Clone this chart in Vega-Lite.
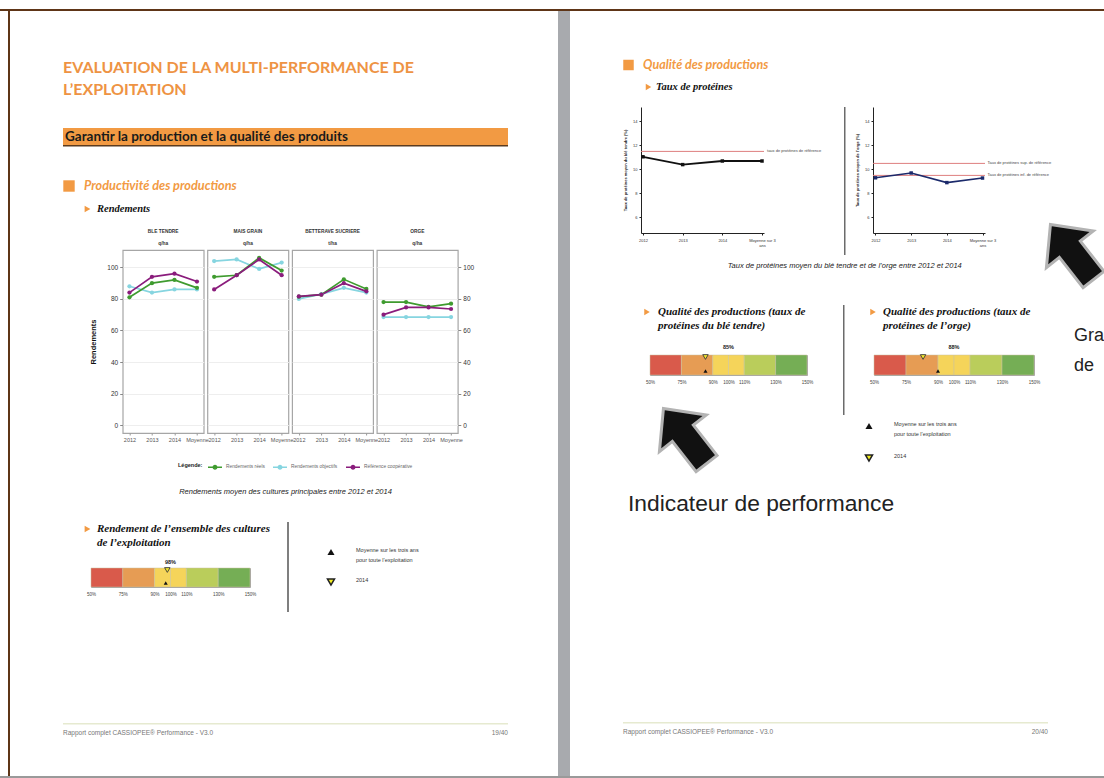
{
"$schema": "https://vega.github.io/schema/vega-lite/v6.json",
"padding": 0,
"background": "#ffffff",
"autosize": {"type": "pad"},
"config": {"view": {"stroke": null}, "font": "Liberation Sans", "concat": {"spacing": 0},
  "axis": {"labelFont": "Liberation Sans", "titleFont": "Liberation Sans"},
  "legend": {"labelFont": "Liberation Sans", "titleFont": "Liberation Sans"},
  "title": {"font": "Liberation Sans"}},
"datasets": {
 "rendements": [
  {"culture": "BLE TENDRE", "annee": "2012", "serie": "Rendements objectifs", "valeur": 88},
  {"culture": "BLE TENDRE", "annee": "2013", "serie": "Rendements objectifs", "valeur": 84},
  {"culture": "BLE TENDRE", "annee": "2014", "serie": "Rendements objectifs", "valeur": 86},
  {"culture": "BLE TENDRE", "annee": "Moyenne", "serie": "Rendements objectifs", "valeur": 86},
  {"culture": "MAIS GRAIN", "annee": "2012", "serie": "Rendements objectifs", "valeur": 104},
  {"culture": "MAIS GRAIN", "annee": "2013", "serie": "Rendements objectifs", "valeur": 105},
  {"culture": "MAIS GRAIN", "annee": "2014", "serie": "Rendements objectifs", "valeur": 99},
  {"culture": "MAIS GRAIN", "annee": "Moyenne", "serie": "Rendements objectifs", "valeur": 103},
  {"culture": "BETTERAVE SUCRIERE", "annee": "2012", "serie": "Rendements objectifs", "valeur": 80},
  {"culture": "BETTERAVE SUCRIERE", "annee": "2013", "serie": "Rendements objectifs", "valeur": 83},
  {"culture": "BETTERAVE SUCRIERE", "annee": "2014", "serie": "Rendements objectifs", "valeur": 87},
  {"culture": "BETTERAVE SUCRIERE", "annee": "Moyenne", "serie": "Rendements objectifs", "valeur": 84},
  {"culture": "ORGE", "annee": "2012", "serie": "Rendements objectifs", "valeur": 68.5},
  {"culture": "ORGE", "annee": "2013", "serie": "Rendements objectifs", "valeur": 68.5},
  {"culture": "ORGE", "annee": "2014", "serie": "Rendements objectifs", "valeur": 68.5},
  {"culture": "ORGE", "annee": "Moyenne", "serie": "Rendements objectifs", "valeur": 68.5},
  {"culture": "BLE TENDRE", "annee": "2012", "serie": "Rendements réels", "valeur": 81},
  {"culture": "BLE TENDRE", "annee": "2013", "serie": "Rendements réels", "valeur": 90},
  {"culture": "BLE TENDRE", "annee": "2014", "serie": "Rendements réels", "valeur": 92},
  {"culture": "BLE TENDRE", "annee": "Moyenne", "serie": "Rendements réels", "valeur": 87},
  {"culture": "MAIS GRAIN", "annee": "2012", "serie": "Rendements réels", "valeur": 94},
  {"culture": "MAIS GRAIN", "annee": "2013", "serie": "Rendements réels", "valeur": 95},
  {"culture": "MAIS GRAIN", "annee": "2014", "serie": "Rendements réels", "valeur": 106},
  {"culture": "MAIS GRAIN", "annee": "Moyenne", "serie": "Rendements réels", "valeur": 98},
  {"culture": "BETTERAVE SUCRIERE", "annee": "2012", "serie": "Rendements réels", "valeur": 81.4},
  {"culture": "BETTERAVE SUCRIERE", "annee": "2013", "serie": "Rendements réels", "valeur": 82.7},
  {"culture": "BETTERAVE SUCRIERE", "annee": "2014", "serie": "Rendements réels", "valeur": 92.4},
  {"culture": "BETTERAVE SUCRIERE", "annee": "Moyenne", "serie": "Rendements réels", "valeur": 86.3},
  {"culture": "ORGE", "annee": "2012", "serie": "Rendements réels", "valeur": 78},
  {"culture": "ORGE", "annee": "2013", "serie": "Rendements réels", "valeur": 78},
  {"culture": "ORGE", "annee": "2014", "serie": "Rendements réels", "valeur": 75},
  {"culture": "ORGE", "annee": "Moyenne", "serie": "Rendements réels", "valeur": 77},
  {"culture": "BLE TENDRE", "annee": "2012", "serie": "Référence coopérative", "valeur": 84},
  {"culture": "BLE TENDRE", "annee": "2013", "serie": "Référence coopérative", "valeur": 94},
  {"culture": "BLE TENDRE", "annee": "2014", "serie": "Référence coopérative", "valeur": 96},
  {"culture": "BLE TENDRE", "annee": "Moyenne", "serie": "Référence coopérative", "valeur": 91},
  {"culture": "MAIS GRAIN", "annee": "2012", "serie": "Référence coopérative", "valeur": 86},
  {"culture": "MAIS GRAIN", "annee": "2013", "serie": "Référence coopérative", "valeur": 95},
  {"culture": "MAIS GRAIN", "annee": "2014", "serie": "Référence coopérative", "valeur": 105},
  {"culture": "MAIS GRAIN", "annee": "Moyenne", "serie": "Référence coopérative", "valeur": 95},
  {"culture": "BETTERAVE SUCRIERE", "annee": "2012", "serie": "Référence coopérative", "valeur": 81.6},
  {"culture": "BETTERAVE SUCRIERE", "annee": "2013", "serie": "Référence coopérative", "valeur": 82.7},
  {"culture": "BETTERAVE SUCRIERE", "annee": "2014", "serie": "Référence coopérative", "valeur": 90},
  {"culture": "BETTERAVE SUCRIERE", "annee": "Moyenne", "serie": "Référence coopérative", "valeur": 84.8},
  {"culture": "ORGE", "annee": "2012", "serie": "Référence coopérative", "valeur": 70},
  {"culture": "ORGE", "annee": "2013", "serie": "Référence coopérative", "valeur": 74.6},
  {"culture": "ORGE", "annee": "2014", "serie": "Référence coopérative", "valeur": 74.6},
  {"culture": "ORGE", "annee": "Moyenne", "serie": "Référence coopérative", "valeur": 73.6}
 ],
 "proteines": [
  {"culture": "Blé tendre", "annee": "2012", "taux": 11.05},
  {"culture": "Blé tendre", "annee": "2013", "taux": 10.4},
  {"culture": "Blé tendre", "annee": "2014", "taux": 10.7},
  {"culture": "Blé tendre", "annee": "Moyenne sur 3 ans", "taux": 10.7},
  {"culture": "Orge", "annee": "2012", "taux": 9.3},
  {"culture": "Orge", "annee": "2013", "taux": 9.7},
  {"culture": "Orge", "annee": "2014", "taux": 8.9},
  {"culture": "Orge", "annee": "Moyenne sur 3 ans", "taux": 9.28}
 ],
 "references": [
  {"culture": "Blé tendre", "libelle": "taux de protéines de référence", "taux": 11.5},
  {"culture": "Orge", "libelle": "Taux de protéines sup. de référence", "taux": 10.5},
  {"culture": "Orge", "libelle": "Taux de protéines inf. de référence", "taux": 9.5}
 ],
 "zones": [
  {"zone": "z1", "debut": 50, "fin": 75},
  {"zone": "z2", "debut": 75, "fin": 90},
  {"zone": "z3", "debut": 90, "fin": 100},
  {"zone": "z4", "debut": 100, "fin": 110},
  {"zone": "z5", "debut": 110, "fin": 130},
  {"zone": "z6", "debut": 130, "fin": 150}
 ],
 "marqueurs": [
  {"jauge": "rendement", "type": "Moyenne", "valeur": 97},
  {"jauge": "rendement", "type": "2014", "valeur": 98},
  {"jauge": "ble", "type": "Moyenne", "valeur": 86.5},
  {"jauge": "ble", "type": "2014", "valeur": 86.5},
  {"jauge": "orge", "type": "Moyenne", "valeur": 90},
  {"jauge": "orge", "type": "2014", "valeur": 83}
 ],
 "etiquettes": [
  {"jauge": "rendement", "texte": "98%"},
  {"jauge": "ble", "texte": "85%"},
  {"jauge": "orge", "texte": "88%"}
 ],
 "legende_jauge": [
  {"type": "Moyenne", "libelle": "Moyenne sur les trois ans\npour toute l’exploitation"},
  {"type": "2014", "libelle": "2014"}
 ]
},
"spacing": 0,
"vconcat": [
 {"width": 1104, "height": 9, "data": {"values": []}, "mark": "rect", "encoding": {}},
 {"width": 1104, "height": 2, "view": {"fill": "#5e3517", "stroke": null}, "data": {"values": []}, "mark": "rect", "encoding": {}},
 {"spacing": 0, "hconcat": [
  {"width": 8, "height": 765, "data": {"values": []}, "mark": "rect", "encoding": {}},
  {"width": 2, "height": 765, "view": {"fill": "#5e3517", "stroke": null}, "data": {"values": []}, "mark": "rect", "encoding": {}},
  {"spacing": 0, "vconcat": [
   {"width": 548, "height": 45, "data": {"values": []}, "mark": "rect", "encoding": {}},
   {"spacing": 0, "hconcat": [
    {"width": 53, "height": 46, "data": {"values": []}, "mark": "rect", "encoding": {}},
    {"width": 445, "height": 46, "data": {"values": [{"t": "EVALUATION DE LA MULTI-PERFORMANCE DE\nL’EXPLOITATION"}]},
     "mark": {"type": "text", "align": "left", "baseline": "middle", "font": "Lato", "fontSize": 16, "fontWeight": "bold", "color": "#EE9343", "lineBreak": "\n", "lineHeight": 22, "dy": -11},
     "encoding": {"text": {"field": "t"}, "x": {"datum": 0, "type": "quantitative", "scale": {"domain": [0, 1], "nice": false, "zero": false}, "axis": null}}}
   ]},
   {"width": 548, "height": 26, "data": {"values": []}, "mark": "rect", "encoding": {}},
   {"spacing": 0, "hconcat": [
    {"width": 53, "height": 17, "data": {"values": []}, "mark": "rect", "encoding": {}},
    {"width": 445, "height": 17, "view": {"fill": "#F29A43", "stroke": null}, "data": {"values": [{"t": "Garantir la production et la qualité des produits"}]},
     "mark": {"type": "text", "align": "left", "baseline": "middle", "font": "Lato", "fontSize": 13.5, "fontWeight": "bold", "color": "#1a1a1a", "dx": 2},
     "encoding": {"text": {"field": "t"}, "x": {"datum": 0, "type": "quantitative", "scale": {"domain": [0, 1], "nice": false, "zero": false}, "axis": null}}}
   ]},
   {"spacing": 0, "hconcat": [
    {"width": 53, "height": 1.5, "data": {"values": []}, "mark": "rect", "encoding": {}},
    {"width": 445, "height": 1.5, "view": {"fill": "#5b3b1f", "stroke": null}, "data": {"values": []}, "mark": "rect", "encoding": {}}
   ]},
   {"width": 548, "height": 29.5, "data": {"values": []}, "mark": "rect", "encoding": {}},
   {"spacing": 0, "hconcat": [
    {"width": 53, "height": 18, "data": {"values": []}, "mark": "rect", "encoding": {}},
    {"width": 445, "height": 18, "data": {"values": [{"t": "Productivité des productions"}]},
     "layer": [
      {"mark": {"type": "point", "shape": "square", "filled": true, "color": "#F29A43", "size": 130, "opacity": 1, "xOffset": 6},
       "encoding": {"x": {"datum": 0, "type": "quantitative", "scale": {"domain": [0, 1], "nice": false, "zero": false}, "axis": null}}},
      {"mark": {"type": "text", "align": "left", "baseline": "middle", "font": "Lato", "fontSize": 12.7, "fontStyle": "italic", "fontWeight": "bold", "color": "#F29A43", "dx": 21},
       "encoding": {"text": {"field": "t"}, "x": {"datum": 0, "type": "quantitative"}}}
     ]}
   ]},
   {"width": 548, "height": 7, "data": {"values": []}, "mark": "rect", "encoding": {}},
   {"spacing": 0, "hconcat": [
    {"width": 74, "height": 14, "data": {"values": []}, "mark": "rect", "encoding": {}},
    {"width": 300, "height": 14, "data": {"values": [{"t": "Rendements"}]},
     "layer": [
      {"mark": {"type": "point", "shape": "triangle-right", "filled": true, "color": "#F29A43", "size": 45, "opacity": 1, "xOffset": 3.5},
       "encoding": {"x": {"datum": 0, "type": "quantitative", "scale": {"domain": [0, 1], "nice": false, "zero": false}, "axis": null}}},
      {"mark": {"type": "text", "align": "left", "baseline": "middle", "font": "Liberation Serif", "fontSize": 10.5, "fontStyle": "italic", "fontWeight": "bold", "color": "#111111", "dx": 13},
       "encoding": {"text": {"field": "t"}, "x": {"datum": 0, "type": "quantitative"}}}
     ]}
   ]},
   {"width": 548, "height": 11.5, "data": {"values": []}, "mark": "rect", "encoding": {}},
   {"spacing": 3.7, "bounds": "flush", "hconcat": [
    {"width": 109, "height": 183, "data": {"values": []}, "mark": "rect", "encoding": {}},
    {"width": 81, "height": 183, "view": {"stroke": "#a6a6a6", "strokeWidth": 1.2},
     "title": {"text": ["BLE TENDRE", "q/ha"], "fontSize": 4.8, "fontWeight": "bold", "color": "#333333", "lineHeight": 12, "offset": 4},
     "data": {"name": "rendements"}, "transform": [{"filter": "datum.culture === 'BLE TENDRE'"}],
     "mark": {"type": "line", "strokeWidth": 1.7, "point": {"filled": true, "size": 18, "opacity": 1}},
     "encoding": {
      "x": {"field": "annee", "type": "nominal", "sort": null, "scale": {"type": "point", "padding": 0.3}, "axis": {"labelFontSize": 5.5, "labelColor": "#555555", "labelAngle": 0, "tickSize": 2, "tickColor": "#999999", "domain": false, "title": null, "labelOverlap": false, "labelPadding": 2, "labelFlush": false}},
      "y": {"field": "valeur", "type": "quantitative", "scale": {"domain": [-5, 111], "nice": false, "zero": false}, "axis": {"values": [0, 20, 40, 60, 80, 100], "labelFontSize": 6.5, "labelColor": "#333333", "tickSize": 3, "tickColor": "#888888", "domain": false, "grid": true, "gridColor": "#eeeeee", "title": "Rendements", "titleFontSize": 7.5, "titleFontWeight": "bold", "titleColor": "#111111", "titlePadding": 9, "labelPadding": 2}},
      "color": {"field": "serie", "type": "nominal", "scale": {"domain": ["Rendements réels", "Rendements objectifs", "Référence coopérative"], "range": ["#3f9b2f", "#86d5e0", "#8a1c7c"]},
       "legend": {"orient": "none", "legendX": 178, "legendY": 459, "direction": "horizontal", "columns": 3, "title": "Légende:", "titleOrient": "left", "titleFontSize": 5.5, "titleFontWeight": "bold", "titleColor": "#222222", "titlePadding": 4, "labelFontSize": 4.8, "labelColor": "#666666", "symbolType": "M-1,0H1M-0.25,0A0.25,0.25,0,1,1,0.25,0A0.25,0.25,0,1,1,-0.25,0", "symbolSize": 196, "symbolStrokeWidth": 1.4, "columnPadding": 5, "labelOffset": 3}}
     }},
    {"width": 81, "height": 183, "view": {"stroke": "#a6a6a6", "strokeWidth": 1.2},
     "title": {"text": ["MAIS GRAIN", "q/ha"], "fontSize": 4.8, "fontWeight": "bold", "color": "#333333", "lineHeight": 12, "offset": 4},
     "data": {"name": "rendements"}, "transform": [{"filter": "datum.culture === 'MAIS GRAIN'"}],
     "mark": {"type": "line", "strokeWidth": 1.7, "point": {"filled": true, "size": 18, "opacity": 1}},
     "encoding": {
      "x": {"field": "annee", "type": "nominal", "sort": null, "scale": {"type": "point", "padding": 0.3}, "axis": {"labelFontSize": 5.5, "labelColor": "#555555", "labelAngle": 0, "tickSize": 2, "tickColor": "#999999", "domain": false, "title": null, "labelOverlap": false, "labelPadding": 2, "labelFlush": false}},
      "y": {"field": "valeur", "type": "quantitative", "scale": {"domain": [-5, 111], "nice": false, "zero": false}, "axis": {"values": [0, 20, 40, 60, 80, 100], "labels": false, "ticks": false, "domain": false, "grid": true, "gridColor": "#eeeeee", "title": null}},
      "color": {"field": "serie", "type": "nominal", "scale": {"domain": ["Rendements réels", "Rendements objectifs", "Référence coopérative"], "range": ["#3f9b2f", "#86d5e0", "#8a1c7c"]}}
     }},
    {"width": 81, "height": 183, "view": {"stroke": "#a6a6a6", "strokeWidth": 1.2},
     "title": {"text": ["BETTERAVE SUCRIERE", "t/ha"], "fontSize": 4.8, "fontWeight": "bold", "color": "#333333", "lineHeight": 12, "offset": 4},
     "data": {"name": "rendements"}, "transform": [{"filter": "datum.culture === 'BETTERAVE SUCRIERE'"}],
     "mark": {"type": "line", "strokeWidth": 1.7, "point": {"filled": true, "size": 18, "opacity": 1}},
     "encoding": {
      "x": {"field": "annee", "type": "nominal", "sort": null, "scale": {"type": "point", "padding": 0.3}, "axis": {"labelFontSize": 5.5, "labelColor": "#555555", "labelAngle": 0, "tickSize": 2, "tickColor": "#999999", "domain": false, "title": null, "labelOverlap": false, "labelPadding": 2, "labelFlush": false}},
      "y": {"field": "valeur", "type": "quantitative", "scale": {"domain": [-5, 111], "nice": false, "zero": false}, "axis": {"values": [0, 20, 40, 60, 80, 100], "labels": false, "ticks": false, "domain": false, "grid": true, "gridColor": "#eeeeee", "title": null}},
      "color": {"field": "serie", "type": "nominal", "scale": {"domain": ["Rendements réels", "Rendements objectifs", "Référence coopérative"], "range": ["#3f9b2f", "#86d5e0", "#8a1c7c"]}}
     }},
    {"width": 81, "height": 183, "view": {"stroke": "#a6a6a6", "strokeWidth": 1.2},
     "title": {"text": ["ORGE", "q/ha"], "fontSize": 4.8, "fontWeight": "bold", "color": "#333333", "lineHeight": 12, "offset": 4},
     "data": {"name": "rendements"}, "transform": [{"filter": "datum.culture === 'ORGE'"}],
     "mark": {"type": "line", "strokeWidth": 1.7, "point": {"filled": true, "size": 18, "opacity": 1}},
     "encoding": {
      "x": {"field": "annee", "type": "nominal", "sort": null, "scale": {"type": "point", "padding": 0.3}, "axis": {"labelFontSize": 5.5, "labelColor": "#555555", "labelAngle": 0, "tickSize": 2, "tickColor": "#999999", "domain": false, "title": null, "labelOverlap": false, "labelPadding": 2, "labelFlush": false}},
      "y": {"field": "valeur", "type": "quantitative", "scale": {"domain": [-5, 111], "nice": false, "zero": false}, "axis": {"orient": "right", "values": [0, 20, 40, 60, 80, 100], "labelFontSize": 6.5, "labelColor": "#333333", "tickSize": 3, "tickColor": "#888888", "domain": false, "grid": true, "gridColor": "#eeeeee", "title": null, "labelPadding": 2}},
      "color": {"field": "serie", "type": "nominal", "scale": {"domain": ["Rendements réels", "Rendements objectifs", "Référence coopérative"], "range": ["#3f9b2f", "#86d5e0", "#8a1c7c"]}}
     }}
   ]},
   {"width": 548, "height": 42, "data": {"values": []}, "mark": "rect", "encoding": {}},
   {"spacing": 0, "hconcat": [
    {"width": 53, "height": 12, "data": {"values": []}, "mark": "rect", "encoding": {}},
    {"width": 445, "height": 12, "data": {"values": [{"t": "Rendements moyen des cultures principales entre 2012 et 2014"}]},
     "mark": {"type": "text", "baseline": "middle", "fontSize": 7.5, "fontStyle": "italic", "color": "#222222"},
     "encoding": {"text": {"field": "t"}}}
   ]},
   {"width": 548, "height": 22.5, "data": {"values": []}, "mark": "rect", "encoding": {}},
   {"spacing": 0, "hconcat": [
    {"width": 74, "height": 90, "data": {"values": []}, "mark": "rect", "encoding": {}},
    {"spacing": 0, "vconcat": [
     {"width": 203, "height": 28, "data": {"values": [{"t": "Rendement de l’ensemble des cultures\nde l’exploitation"}]},
      "layer": [
       {"mark": {"type": "point", "shape": "triangle-right", "filled": true, "color": "#F29A43", "size": 45, "opacity": 1, "xOffset": 3.5, "yOffset": -7},
        "encoding": {"x": {"datum": 0, "type": "quantitative", "scale": {"domain": [0, 1], "nice": false, "zero": false}, "axis": null}}},
       {"mark": {"type": "text", "align": "left", "baseline": "middle", "font": "Liberation Serif", "fontSize": 11, "fontStyle": "italic", "fontWeight": "bold", "color": "#111111", "dx": 13, "dy": -7, "lineBreak": "\n", "lineHeight": 14},
        "encoding": {"text": {"field": "t"}, "x": {"datum": 0, "type": "quantitative"}}}
      ]},
     {"width": 203, "height": 8.5, "data": {"values": []}, "mark": "rect", "encoding": {}},
     {"spacing": 0, "bounds": "flush", "hconcat": [
      {"width": 7, "height": 19, "data": {"values": []}, "mark": "rect", "encoding": {}},
      {"width": 159, "height": 19, "view": {"stroke": "#a3a3a3", "strokeWidth": 1},
       "layer": [
        {"data": {"name": "zones"}, "mark": {"type": "rect", "stroke": "#c9c3a0", "strokeWidth": 0.5},
         "encoding": {
          "x": {"field": "debut", "type": "quantitative", "scale": {"domain": [50, 75, 90, 100, 110, 130, 150], "range": [0, 31.8, 63.6, 79.5, 95.4, 127.2, 159], "nice": false, "zero": false}, "axis": {"values": [50, 75, 90, 100, 110, 130, 150], "labelExpr": "datum.value + '%'", "labelFontSize": 4.5, "labelColor": "#444444", "ticks": false, "domain": false, "grid": false, "labelPadding": 4, "labelFlush": false, "labelOverlap": false, "title": null}},
          "x2": {"field": "fin"},
          "fill": {"field": "zone", "type": "nominal", "scale": {"domain": ["z1", "z2", "z3", "z4", "z5", "z6"], "range": ["#d95a4b", "#e69c54", "#f5d45a", "#f5d45a", "#bacd5b", "#75ae55"]}, "legend": null}}},
        {"data": {"name": "marqueurs"}, "transform": [{"filter": "datum.jauge === 'rendement' && datum.type === 'Moyenne'"}],
         "mark": {"type": "point", "shape": "triangle-up", "filled": true, "color": "#111111", "opacity": 1, "size": 16, "yOffset": 5.5},
         "encoding": {"x": {"field": "valeur", "type": "quantitative", "axis": {"values": [50, 75, 90, 100, 110, 130, 150], "labelExpr": "datum.value + '%'", "labelFontSize": 4.5, "labelColor": "#444444", "ticks": false, "domain": false, "grid": false, "labelPadding": 4, "labelFlush": false, "labelOverlap": false, "title": null}}}},
        {"data": {"name": "marqueurs"}, "transform": [{"filter": "datum.jauge === 'rendement' && datum.type === '2014'"}],
         "mark": {"type": "point", "shape": "triangle-down", "filled": true, "fill": "#f1e62b", "stroke": "#3b3b3b", "strokeWidth": 0.9, "opacity": 1, "size": 30, "yOffset": -7.5},
         "encoding": {"x": {"field": "valeur", "type": "quantitative", "axis": {"values": [50, 75, 90, 100, 110, 130, 150], "labelExpr": "datum.value + '%'", "labelFontSize": 4.5, "labelColor": "#444444", "ticks": false, "domain": false, "grid": false, "labelPadding": 4, "labelFlush": false, "labelOverlap": false, "title": null}}}},
        {"data": {"name": "etiquettes"}, "transform": [{"filter": "datum.jauge === 'rendement'"}],
         "mark": {"type": "text", "fontSize": 5.5, "fontWeight": "bold", "color": "#222222", "baseline": "middle", "dy": -15.5},
         "encoding": {"x": {"datum": 100, "type": "quantitative", "axis": {"values": [50, 75, 90, 100, 110, 130, 150], "labelExpr": "datum.value + '%'", "labelFontSize": 4.5, "labelColor": "#444444", "ticks": false, "domain": false, "grid": false, "labelPadding": 4, "labelFlush": false, "labelOverlap": false, "title": null}}, "text": {"field": "texte"}}}
       ]}
     ]}
    ]},
    {"width": 173, "height": 90,
     "layer": [
      {"data": {"values": [{}]}, "mark": {"type": "rule", "color": "#555555", "strokeWidth": 1.5},
       "encoding": {"x": {"datum": 0, "type": "quantitative", "scale": {"domain": [0, 1], "nice": false, "zero": false}, "axis": null}}},
      {"data": {"name": "legende_jauge"}, "transform": [{"filter": "datum.type === 'Moyenne'"}],
       "mark": {"type": "point", "shape": "triangle-up", "filled": true, "color": "#111111", "size": 50, "opacity": 1, "xOffset": 43},
       "encoding": {"x": {"datum": 0, "type": "quantitative", "axis": null}, "y": {"field": "type", "type": "nominal", "scale": {"type": "point", "domain": ["Moyenne", "2014"], "padding": 1}, "axis": null}}},
      {"data": {"name": "legende_jauge"}, "transform": [{"filter": "datum.type === '2014'"}],
       "mark": {"type": "point", "shape": "triangle-down", "filled": true, "fill": "#f2ee22", "stroke": "#222222", "strokeWidth": 1.5, "size": 50, "opacity": 1, "xOffset": 43},
       "encoding": {"x": {"datum": 0, "type": "quantitative", "axis": null}, "y": {"field": "type", "type": "nominal", "axis": null}}},
      {"data": {"name": "legende_jauge"},
       "mark": {"type": "text", "align": "left", "baseline": "middle", "fontSize": 5.5, "color": "#333333", "lineBreak": "\n", "lineHeight": 10, "dx": 68, "dy": -2.5},
       "encoding": {"x": {"datum": 0, "type": "quantitative", "axis": null}, "y": {"field": "type", "type": "nominal", "axis": null}, "text": {"field": "libelle"}}}
     ]}
   ]},
   {"width": 548, "height": 110, "data": {"values": []}, "mark": "rect", "encoding": {}},
   {"spacing": 0, "hconcat": [
    {"width": 53, "height": 1.5, "data": {"values": []}, "mark": "rect", "encoding": {}},
    {"width": 445, "height": 1.5, "view": {"fill": "#e6ead0", "stroke": null}, "data": {"values": []}, "mark": "rect", "encoding": {}}
   ]},
   {"width": 548, "height": 3, "data": {"values": []}, "mark": "rect", "encoding": {}},
   {"spacing": 0, "hconcat": [
    {"width": 53, "height": 10, "data": {"values": []}, "mark": "rect", "encoding": {}},
    {"width": 445, "height": 10, "data": {"values": [{"gauche": "Rapport complet CASSIOPEE® Performance - V3.0", "droite": "19/40"}]},
     "layer": [
      {"mark": {"type": "text", "align": "left", "baseline": "middle", "fontSize": 6.5, "color": "#777777"},
       "encoding": {"text": {"field": "gauche"}, "x": {"datum": 0, "type": "quantitative", "scale": {"domain": [0, 1], "nice": false, "zero": false}, "axis": null}}},
      {"mark": {"type": "text", "align": "right", "baseline": "middle", "fontSize": 6.5, "color": "#777777"},
       "encoding": {"text": {"field": "droite"}, "x": {"datum": 1, "type": "quantitative", "axis": null}}}
     ]}
   ]}
  ]},
  {"width": 12, "height": 765, "view": {"fill": "#a8aaae", "stroke": null}, "data": {"values": []}, "mark": "rect", "encoding": {}},
  {"spacing": 0, "vconcat": [
   {"width": 534, "height": 47, "data": {"values": []}, "mark": "rect", "encoding": {}},
   {"spacing": 0, "hconcat": [
    {"width": 53, "height": 14, "data": {"values": []}, "mark": "rect", "encoding": {}},
    {"width": 300, "height": 14, "data": {"values": [{"t": "Qualité des productions"}]},
     "layer": [
      {"mark": {"type": "point", "shape": "square", "filled": true, "color": "#F29A43", "size": 110, "opacity": 1, "xOffset": 5.5},
       "encoding": {"x": {"datum": 0, "type": "quantitative", "scale": {"domain": [0, 1], "nice": false, "zero": false}, "axis": null}}},
      {"mark": {"type": "text", "align": "left", "baseline": "middle", "font": "Lato", "fontSize": 12.5, "fontStyle": "italic", "fontWeight": "bold", "color": "#F29A43", "dx": 20},
       "encoding": {"text": {"field": "t"}, "x": {"datum": 0, "type": "quantitative"}}}
     ]}
   ]},
   {"width": 534, "height": 8, "data": {"values": []}, "mark": "rect", "encoding": {}},
   {"spacing": 0, "hconcat": [
    {"width": 75, "height": 14, "data": {"values": []}, "mark": "rect", "encoding": {}},
    {"width": 300, "height": 14, "data": {"values": [{"t": "Taux de protéines"}]},
     "layer": [
      {"mark": {"type": "point", "shape": "triangle-right", "filled": true, "color": "#F29A43", "size": 40, "opacity": 1, "xOffset": 3.5},
       "encoding": {"x": {"datum": 0, "type": "quantitative", "scale": {"domain": [0, 1], "nice": false, "zero": false}, "axis": null}}},
      {"mark": {"type": "text", "align": "left", "baseline": "middle", "font": "Liberation Serif", "fontSize": 10.5, "fontStyle": "italic", "fontWeight": "bold", "color": "#111111", "dx": 11},
       "encoding": {"text": {"field": "t"}, "x": {"datum": 0, "type": "quantitative"}}}
     ]}
   ]},
   {"width": 534, "height": 13, "data": {"values": []}, "mark": "rect", "encoding": {}},
   {"spacing": 0, "bounds": "flush", "hconcat": [
    {"width": 70.7, "height": 148, "data": {"values": []}, "mark": "rect", "encoding": {}},
    {"width": 123, "height": 126,
     "layer": [
      {"data": {"name": "references"}, "transform": [{"filter": "datum.culture === 'Blé tendre'"}],
       "mark": {"type": "rule", "color": "#de7f7f", "strokeWidth": 1},
       "encoding": {"y": {"field": "taux", "type": "quantitative", "axis": {"values": [6, 8, 10, 12, 14], "labelFontSize": 4, "labelColor": "#333333", "tickSize": 2, "tickColor": "#222222", "domainColor": "#222222", "grid": false, "labelOverlap": false, "title": "Taux de protéines moyen du blé tendre (%)", "titleFontSize": 4, "titleFontWeight": "bold", "titleColor": "#222222", "titlePadding": 5, "labelPadding": 2}}}},
      {"data": {"name": "references"}, "transform": [{"filter": "datum.culture === 'Blé tendre'"}],
       "mark": {"type": "text", "align": "left", "baseline": "middle", "dx": 5, "fontSize": 4, "color": "#444444"},
       "encoding": {
        "x": {"datum": "Moyenne sur 3 ans", "type": "nominal", "scale": {"type": "point", "padding": 0.05, "domain": ["2012", "2013", "2014", "Moyenne sur 3 ans"]}, "axis": {"labelFontSize": 4, "labelColor": "#333333", "labelAngle": 0, "tickSize": 2, "tickColor": "#222222", "domainColor": "#222222", "title": null, "labelPadding": 3, "labelLineHeight": 5, "labelOverlap": false, "labelExpr": "datum.value === 'Moyenne sur 3 ans' ? ['Moyenne sur 3', 'ans'] : datum.label"}},
        "y": {"field": "taux", "type": "quantitative", "axis": {"values": [6, 8, 10, 12, 14], "labelFontSize": 4, "labelColor": "#333333", "tickSize": 2, "tickColor": "#222222", "domainColor": "#222222", "grid": false, "labelOverlap": false, "title": "Taux de protéines moyen du blé tendre (%)", "titleFontSize": 4, "titleFontWeight": "bold", "titleColor": "#222222", "titlePadding": 5, "labelPadding": 2}},
        "text": {"field": "libelle"}}},
      {"data": {"name": "proteines"}, "transform": [{"filter": "datum.culture === 'Blé tendre'"}],
       "mark": {"type": "line", "color": "#111111", "strokeWidth": 1.8, "point": {"filled": true, "shape": "square", "size": 12, "color": "#111111", "opacity": 1}},
       "encoding": {
        "x": {"field": "annee", "type": "nominal", "sort": null, "scale": {"type": "point", "padding": 0.05, "domain": ["2012", "2013", "2014", "Moyenne sur 3 ans"]}, "axis": {"labelFontSize": 4, "labelColor": "#333333", "labelAngle": 0, "tickSize": 2, "tickColor": "#222222", "domainColor": "#222222", "title": null, "labelPadding": 3, "labelLineHeight": 5, "labelOverlap": false, "labelExpr": "datum.value === 'Moyenne sur 3 ans' ? ['Moyenne sur 3', 'ans'] : datum.label"}},
        "y": {"field": "taux", "type": "quantitative", "scale": {"domain": [4.7, 15.2], "nice": false, "zero": false}, "axis": {"values": [6, 8, 10, 12, 14], "labelFontSize": 4, "labelColor": "#333333", "tickSize": 2, "tickColor": "#222222", "domainColor": "#222222", "grid": false, "labelOverlap": false, "title": "Taux de protéines moyen du blé tendre (%)", "titleFontSize": 4, "titleFontWeight": "bold", "titleColor": "#222222", "titlePadding": 5, "labelPadding": 2}}}}
     ]},
    {"width": 79.3, "height": 148, "data": {"values": []}, "mark": "rect", "encoding": {}},
    {"width": 1.5, "height": 148, "view": {"fill": "#6b6b6b", "stroke": null}, "data": {"values": [{"t": "Taux de protéines moyen du blé tendre et de l’orge entre 2012 et 2014"}]},
     "mark": {"type": "text", "baseline": "middle", "fontSize": 7.5, "fontStyle": "italic", "color": "#222222", "dy": 85},
     "encoding": {"text": {"field": "t"}}},
    {"width": 26.5, "height": 148, "data": {"values": []}, "mark": "rect", "encoding": {}},
    {"width": 112, "height": 126,
     "layer": [
      {"data": {"name": "references"}, "transform": [{"filter": "datum.culture === 'Orge'"}],
       "mark": {"type": "rule", "color": "#de7f7f", "strokeWidth": 1},
       "encoding": {"y": {"field": "taux", "type": "quantitative", "axis": {"values": [6, 8, 10, 12, 14], "labelFontSize": 4, "labelColor": "#333333", "tickSize": 2, "tickColor": "#222222", "domainColor": "#222222", "grid": false, "labelOverlap": false, "title": "Taux de protéines moyen de l’orge (%)", "titleFontSize": 4, "titleFontWeight": "bold", "titleColor": "#222222", "titlePadding": 5, "labelPadding": 2}}}},
      {"data": {"name": "references"}, "transform": [{"filter": "datum.culture === 'Orge'"}],
       "mark": {"type": "text", "align": "left", "baseline": "middle", "dx": 5, "fontSize": 4, "color": "#444444"},
       "encoding": {
        "x": {"datum": "Moyenne sur 3 ans", "type": "nominal", "scale": {"type": "point", "padding": 0.07, "domain": ["2012", "2013", "2014", "Moyenne sur 3 ans"]}, "axis": {"labelFontSize": 4, "labelColor": "#333333", "labelAngle": 0, "tickSize": 2, "tickColor": "#222222", "domainColor": "#222222", "title": null, "labelPadding": 3, "labelLineHeight": 5, "labelOverlap": false, "labelExpr": "datum.value === 'Moyenne sur 3 ans' ? ['Moyenne sur 3', 'ans'] : datum.label"}},
        "y": {"field": "taux", "type": "quantitative", "axis": {"values": [6, 8, 10, 12, 14], "labelFontSize": 4, "labelColor": "#333333", "tickSize": 2, "tickColor": "#222222", "domainColor": "#222222", "grid": false, "labelOverlap": false, "title": "Taux de protéines moyen de l’orge (%)", "titleFontSize": 4, "titleFontWeight": "bold", "titleColor": "#222222", "titlePadding": 5, "labelPadding": 2}},
        "text": {"field": "libelle"}}},
      {"data": {"name": "proteines"}, "transform": [{"filter": "datum.culture === 'Orge'"}],
       "mark": {"type": "line", "color": "#1b2a6b", "strokeWidth": 1.6, "point": {"filled": true, "shape": "square", "size": 12, "color": "#1b2a6b", "opacity": 1}},
       "encoding": {
        "x": {"field": "annee", "type": "nominal", "sort": null, "scale": {"type": "point", "padding": 0.07, "domain": ["2012", "2013", "2014", "Moyenne sur 3 ans"]}, "axis": {"labelFontSize": 4, "labelColor": "#333333", "labelAngle": 0, "tickSize": 2, "tickColor": "#222222", "domainColor": "#222222", "title": null, "labelPadding": 3, "labelLineHeight": 5, "labelOverlap": false, "labelExpr": "datum.value === 'Moyenne sur 3 ans' ? ['Moyenne sur 3', 'ans'] : datum.label"}},
        "y": {"field": "taux", "type": "quantitative", "scale": {"domain": [4.7, 15.2], "nice": false, "zero": false}, "axis": {"values": [6, 8, 10, 12, 14], "labelFontSize": 4, "labelColor": "#333333", "tickSize": 2, "tickColor": "#222222", "domainColor": "#222222", "grid": false, "labelOverlap": false, "title": "Taux de protéines moyen de l’orge (%)", "titleFontSize": 4, "titleFontWeight": "bold", "titleColor": "#222222", "titlePadding": 5, "labelPadding": 2}}}}
     ]},
    {"width": 121, "height": 148, "data": {"values": [{}]},
     "mark": {"type": "point", "shape": "M0,-1L0.85,-0.1L0.38,-0.1L0.38,1L-0.38,1L-0.38,-0.1L-0.85,-0.1Z", "size": 4900, "angle": -38, "filled": true, "fill": "#111111", "stroke": "#b3b3b3", "strokeWidth": 3, "opacity": 1, "xOffset": 26.5, "yOffset": 71},
     "encoding": {}}
   ]},
   {"width": 534, "height": 11, "data": {"values": []}, "mark": "rect", "encoding": {}},
   {"spacing": 0, "hconcat": [
    {"width": 66, "height": 110, "data": {"values": []}, "mark": "rect", "encoding": {}},
    {"spacing": 0, "vconcat": [
     {"width": 190, "height": 28, "data": {"values": [{"t": "Qualité des productions (taux de\nprotéines du blé tendre)"}]},
      "layer": [
       {"mark": {"type": "point", "shape": "triangle-right", "filled": true, "color": "#F29A43", "size": 40, "opacity": 1, "xOffset": 11, "yOffset": -7},
        "encoding": {"x": {"datum": 0, "type": "quantitative", "scale": {"domain": [0, 1], "nice": false, "zero": false}, "axis": null}}},
       {"mark": {"type": "text", "align": "left", "baseline": "middle", "font": "Liberation Serif", "fontSize": 11, "fontStyle": "italic", "fontWeight": "bold", "color": "#111111", "dx": 22, "dy": -7, "lineBreak": "\n", "lineHeight": 14},
        "encoding": {"text": {"field": "t"}, "x": {"datum": 0, "type": "quantitative"}}}
      ]},
     {"width": 190, "height": 11, "data": {"values": []}, "mark": "rect", "encoding": {}},
     {"spacing": 0, "bounds": "flush", "hconcat": [
      {"width": 14, "height": 20, "data": {"values": []}, "mark": "rect", "encoding": {}},
      {"width": 157, "height": 20, "view": {"stroke": "#a3a3a3", "strokeWidth": 1},
       "layer": [
        {"data": {"name": "zones"}, "mark": {"type": "rect", "stroke": "#c9c3a0", "strokeWidth": 0.5},
         "encoding": {
          "x": {"field": "debut", "type": "quantitative", "scale": {"domain": [50, 75, 90, 100, 110, 130, 150], "range": [0, 31.4, 62.8, 78.5, 94.2, 125.6, 157], "nice": false, "zero": false}, "axis": {"values": [50, 75, 90, 100, 110, 130, 150], "labelExpr": "datum.value + '%'", "labelFontSize": 4.5, "labelColor": "#444444", "ticks": false, "domain": false, "grid": false, "labelPadding": 4, "labelFlush": false, "labelOverlap": false, "title": null}},
          "x2": {"field": "fin"},
          "fill": {"field": "zone", "type": "nominal", "scale": {"domain": ["z1", "z2", "z3", "z4", "z5", "z6"], "range": ["#d95a4b", "#e69c54", "#f5d45a", "#f5d45a", "#bacd5b", "#75ae55"]}, "legend": null}}},
        {"data": {"name": "marqueurs"}, "transform": [{"filter": "datum.jauge === 'ble' && datum.type === 'Moyenne'"}],
         "mark": {"type": "point", "shape": "triangle-up", "filled": true, "color": "#111111", "opacity": 1, "size": 16, "yOffset": 6},
         "encoding": {"x": {"field": "valeur", "type": "quantitative", "axis": {"values": [50, 75, 90, 100, 110, 130, 150], "labelExpr": "datum.value + '%'", "labelFontSize": 4.5, "labelColor": "#444444", "ticks": false, "domain": false, "grid": false, "labelPadding": 4, "labelFlush": false, "labelOverlap": false, "title": null}}}},
        {"data": {"name": "marqueurs"}, "transform": [{"filter": "datum.jauge === 'ble' && datum.type === '2014'"}],
         "mark": {"type": "point", "shape": "triangle-down", "filled": true, "fill": "#f1e62b", "stroke": "#3b3b3b", "strokeWidth": 0.9, "opacity": 1, "size": 30, "yOffset": -8},
         "encoding": {"x": {"field": "valeur", "type": "quantitative", "axis": {"values": [50, 75, 90, 100, 110, 130, 150], "labelExpr": "datum.value + '%'", "labelFontSize": 4.5, "labelColor": "#444444", "ticks": false, "domain": false, "grid": false, "labelPadding": 4, "labelFlush": false, "labelOverlap": false, "title": null}}}},
        {"data": {"name": "etiquettes"}, "transform": [{"filter": "datum.jauge === 'ble'"}],
         "mark": {"type": "text", "fontSize": 5.5, "fontWeight": "bold", "color": "#222222", "baseline": "middle", "dy": -18},
         "encoding": {"x": {"datum": 100, "type": "quantitative", "axis": {"values": [50, 75, 90, 100, 110, 130, 150], "labelExpr": "datum.value + '%'", "labelFontSize": 4.5, "labelColor": "#444444", "ticks": false, "domain": false, "grid": false, "labelPadding": 4, "labelFlush": false, "labelOverlap": false, "title": null}}, "text": {"field": "texte"}}}
       ]}
     ]},
     {"width": 190, "height": 4, "data": {"values": []}, "mark": "rect", "encoding": {}},
     {"width": 98, "height": 96, "data": {"values": [{}]},
      "mark": {"type": "point", "shape": "M0,-1L0.85,-0.1L0.38,-0.1L0.38,1L-0.38,1L-0.38,-0.1L-0.85,-0.1Z", "size": 4900, "angle": -38, "filled": true, "fill": "#111111", "stroke": "#b3b3b3", "strokeWidth": 3, "opacity": 1},
      "encoding": {}}
    ]},
    {"width": 17, "height": 110, "data": {"values": []}, "mark": "rect", "encoding": {}},
    {"width": 1.5, "height": 110, "view": {"fill": "#6b6b6b", "stroke": null}, "data": {"values": []}, "mark": "rect", "encoding": {}},
    {"width": 15.5, "height": 110, "data": {"values": []}, "mark": "rect", "encoding": {}},
    {"spacing": 0, "vconcat": [
     {"width": 190, "height": 28, "data": {"values": [{"t": "Qualité des productions (taux de\nprotéines de l’orge)"}]},
      "layer": [
       {"mark": {"type": "point", "shape": "triangle-right", "filled": true, "color": "#F29A43", "size": 40, "opacity": 1, "xOffset": 12, "yOffset": -7},
        "encoding": {"x": {"datum": 0, "type": "quantitative", "scale": {"domain": [0, 1], "nice": false, "zero": false}, "axis": null}}},
       {"mark": {"type": "text", "align": "left", "baseline": "middle", "font": "Liberation Serif", "fontSize": 11, "fontStyle": "italic", "fontWeight": "bold", "color": "#111111", "dx": 22, "dy": -7, "lineBreak": "\n", "lineHeight": 14},
        "encoding": {"text": {"field": "t"}, "x": {"datum": 0, "type": "quantitative"}}}
      ]},
     {"width": 190, "height": 11, "data": {"values": []}, "mark": "rect", "encoding": {}},
     {"spacing": 0, "bounds": "flush", "hconcat": [
      {"width": 13, "height": 20, "data": {"values": []}, "mark": "rect", "encoding": {}},
      {"width": 160, "height": 20, "view": {"stroke": "#a3a3a3", "strokeWidth": 1},
       "layer": [
        {"data": {"name": "zones"}, "mark": {"type": "rect", "stroke": "#c9c3a0", "strokeWidth": 0.5},
         "encoding": {
          "x": {"field": "debut", "type": "quantitative", "scale": {"domain": [50, 75, 90, 100, 110, 130, 150], "range": [0, 32, 64, 80, 96, 128, 160], "nice": false, "zero": false}, "axis": {"values": [50, 75, 90, 100, 110, 130, 150], "labelExpr": "datum.value + '%'", "labelFontSize": 4.5, "labelColor": "#444444", "ticks": false, "domain": false, "grid": false, "labelPadding": 4, "labelFlush": false, "labelOverlap": false, "title": null}},
          "x2": {"field": "fin"},
          "fill": {"field": "zone", "type": "nominal", "scale": {"domain": ["z1", "z2", "z3", "z4", "z5", "z6"], "range": ["#d95a4b", "#e69c54", "#f5d45a", "#f5d45a", "#bacd5b", "#75ae55"]}, "legend": null}}},
        {"data": {"name": "marqueurs"}, "transform": [{"filter": "datum.jauge === 'orge' && datum.type === 'Moyenne'"}],
         "mark": {"type": "point", "shape": "triangle-up", "filled": true, "color": "#111111", "opacity": 1, "size": 16, "yOffset": 6},
         "encoding": {"x": {"field": "valeur", "type": "quantitative", "axis": {"values": [50, 75, 90, 100, 110, 130, 150], "labelExpr": "datum.value + '%'", "labelFontSize": 4.5, "labelColor": "#444444", "ticks": false, "domain": false, "grid": false, "labelPadding": 4, "labelFlush": false, "labelOverlap": false, "title": null}}}},
        {"data": {"name": "marqueurs"}, "transform": [{"filter": "datum.jauge === 'orge' && datum.type === '2014'"}],
         "mark": {"type": "point", "shape": "triangle-down", "filled": true, "fill": "#f1e62b", "stroke": "#3b3b3b", "strokeWidth": 0.9, "opacity": 1, "size": 30, "yOffset": -8},
         "encoding": {"x": {"field": "valeur", "type": "quantitative", "axis": {"values": [50, 75, 90, 100, 110, 130, 150], "labelExpr": "datum.value + '%'", "labelFontSize": 4.5, "labelColor": "#444444", "ticks": false, "domain": false, "grid": false, "labelPadding": 4, "labelFlush": false, "labelOverlap": false, "title": null}}}},
        {"data": {"name": "etiquettes"}, "transform": [{"filter": "datum.jauge === 'orge'"}],
         "mark": {"type": "text", "fontSize": 5.5, "fontWeight": "bold", "color": "#222222", "baseline": "middle", "dy": -18},
         "encoding": {"x": {"datum": 100, "type": "quantitative", "axis": {"values": [50, 75, 90, 100, 110, 130, 150], "labelExpr": "datum.value + '%'", "labelFontSize": 4.5, "labelColor": "#444444", "ticks": false, "domain": false, "grid": false, "labelPadding": 4, "labelFlush": false, "labelOverlap": false, "title": null}}, "text": {"field": "texte"}}}
       ]}
     ]},
     {"width": 190, "height": 32, "data": {"values": []}, "mark": "rect", "encoding": {}},
     {"width": 160, "height": 52,
      "layer": [
       {"data": {"name": "legende_jauge"}, "transform": [{"filter": "datum.type === 'Moyenne'"}],
        "mark": {"type": "point", "shape": "triangle-up", "filled": true, "color": "#111111", "size": 50, "opacity": 1, "xOffset": 8},
        "encoding": {"x": {"datum": 0, "type": "quantitative", "scale": {"domain": [0, 1], "nice": false, "zero": false}, "axis": null}, "y": {"field": "type", "type": "nominal", "scale": {"type": "point", "domain": ["Moyenne", "2014"], "padding": 0.3125}, "axis": null}}},
       {"data": {"name": "legende_jauge"}, "transform": [{"filter": "datum.type === '2014'"}],
        "mark": {"type": "point", "shape": "triangle-down", "filled": true, "fill": "#f2ee22", "stroke": "#222222", "strokeWidth": 1.5, "size": 50, "opacity": 1, "xOffset": 8},
        "encoding": {"x": {"datum": 0, "type": "quantitative", "axis": null}, "y": {"field": "type", "type": "nominal", "axis": null}}},
       {"data": {"name": "legende_jauge"},
        "mark": {"type": "text", "align": "left", "baseline": "middle", "fontSize": 5.5, "color": "#333333", "lineBreak": "\n", "lineHeight": 10, "dx": 33, "dy": -2.5},
        "encoding": {"x": {"datum": 0, "type": "quantitative", "axis": null}, "y": {"field": "type", "type": "nominal", "axis": null}, "text": {"field": "libelle"}}}
      ]}
    ]},
    {"width": 23, "height": 110, "data": {"values": []}, "mark": "rect", "encoding": {}},
    {"width": 31, "height": 62, "data": {"values": [{"t": "Gra\nde"}]},
     "mark": {"type": "text", "align": "left", "baseline": "middle", "fontSize": 18, "color": "#222222", "lineBreak": "\n", "lineHeight": 30},
     "encoding": {"text": {"field": "t"}, "x": {"datum": 0, "type": "quantitative", "scale": {"domain": [0, 1], "nice": false, "zero": false}, "axis": null}}}
   ]},
   {"width": 534, "height": 7.5, "data": {"values": []}, "mark": "rect", "encoding": {}},
   {"spacing": 0, "hconcat": [
    {"width": 58, "height": 24, "data": {"values": []}, "mark": "rect", "encoding": {}},
    {"width": 330, "height": 24, "data": {"values": [{"t": "Indicateur de performance"}]},
     "mark": {"type": "text", "align": "left", "baseline": "middle", "fontSize": 22.8, "color": "#222222"},
     "encoding": {"text": {"field": "t"}, "x": {"datum": 0, "type": "quantitative", "scale": {"domain": [0, 1], "nice": false, "zero": false}, "axis": null}}}
   ]},
   {"width": 534, "height": 206, "data": {"values": []}, "mark": "rect", "encoding": {}},
   {"spacing": 0, "hconcat": [
    {"width": 53, "height": 1.5, "data": {"values": []}, "mark": "rect", "encoding": {}},
    {"width": 425, "height": 1.5, "view": {"fill": "#e6ead0", "stroke": null}, "data": {"values": []}, "mark": "rect", "encoding": {}}
   ]},
   {"width": 534, "height": 3, "data": {"values": []}, "mark": "rect", "encoding": {}},
   {"spacing": 0, "hconcat": [
    {"width": 53, "height": 10, "data": {"values": []}, "mark": "rect", "encoding": {}},
    {"width": 425, "height": 10, "data": {"values": [{"gauche": "Rapport complet CASSIOPEE® Performance - V3.0", "droite": "20/40"}]},
     "layer": [
      {"mark": {"type": "text", "align": "left", "baseline": "middle", "fontSize": 6.5, "color": "#777777"},
       "encoding": {"text": {"field": "gauche"}, "x": {"datum": 0, "type": "quantitative", "scale": {"domain": [0, 1], "nice": false, "zero": false}, "axis": null}}},
      {"mark": {"type": "text", "align": "right", "baseline": "middle", "fontSize": 6.5, "color": "#777777"},
       "encoding": {"text": {"field": "droite"}, "x": {"datum": 1, "type": "quantitative", "axis": null}}}
     ]}
   ]}
  ]}
 ]},
 {"width": 1104, "height": 2, "view": {"fill": "#9a9a9a", "stroke": null}, "data": {"values": []}, "mark": "rect", "encoding": {}}
]
}
